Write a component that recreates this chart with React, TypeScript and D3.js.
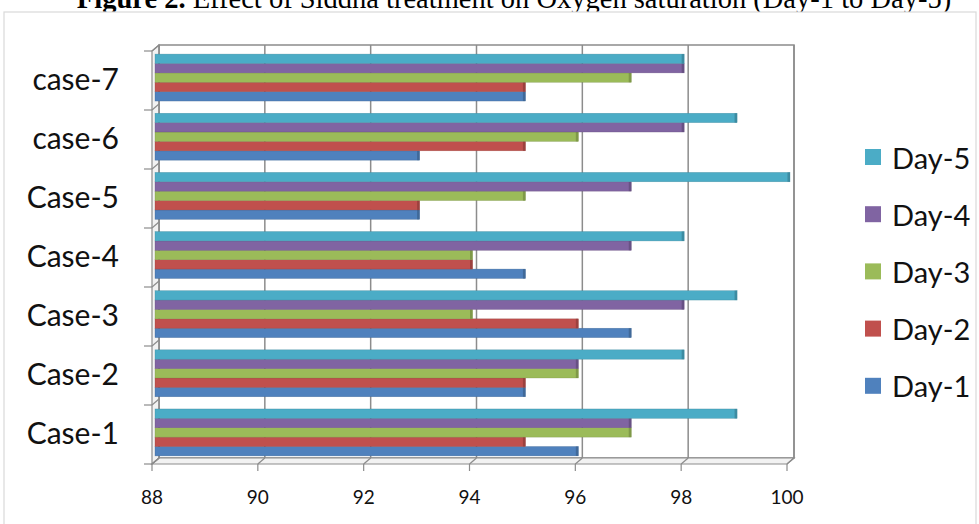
import React from "react";
import * as d3 from "d3";

const categories = ["Case-1", "Case-2", "Case-3", "Case-4", "Case-5", "case-6", "case-7"];
const seriesNames = ["Day-1", "Day-2", "Day-3", "Day-4", "Day-5"];
const day1 = [96, 95, 97, 95, 93, 93, 95];
const day2 = [95, 95, 96, 94, 93, 95, 95];
const day3 = [97, 96, 94, 94, 95, 96, 97];
const day4 = [97, 96, 98, 97, 97, 98, 98];
const day5 = [99, 98, 99, 98, 100, 99, 98];
const xTicks = [88, 90, 92, 94, 96, 98, 100];
const colors = ["#4F81BD", "#C0504D", "#9BBB59", "#8064A2", "#4BACC6"];

const W = 979;
const H = 524;

export default function App() {
  const series = [day1, day2, day3, day4, day5];
  const dx = 7;
  const dy = -6;
  const xFront = d3.scaleLinear().domain([88, 100]).range([152, 787]);
  const xBack = (v: number) => xFront(v) + dx;
  const xBar = (v: number) => xFront(v) + 3;
  const frontBottom = 464;
  const frontTop = 51;
  const backBottom = frontBottom + dy;
  const backTop = frontTop + dy;
  const yBand = d3.scaleBand<string>().domain(categories).range([462, 48]).paddingInner(0).paddingOuter(0);
  const inner = d3
    .scaleBand<string>()
    .domain([...seriesNames].reverse())
    .range([0, yBand.bandwidth()])
    .paddingOuter(0.65)
    .paddingInner(0);
  const yTicks = d3.scaleBand<string>().domain(categories).range([frontBottom, frontTop]);
  const labelFont = "Lato, 'Open Sans', sans-serif";
  const grid = "#8c8c8c";

  return (
    <svg width={W} height={H} style={{ position: "absolute", left: 0, top: 0, background: "#fff" }}>
      <text x={514} y={8} textAnchor="middle" fontFamily="'Liberation Serif', 'Times New Roman', serif" fontSize={28.5}>
        <tspan fontWeight="bold">Figure 2.</tspan>
        <tspan> Effect of Siddha treatment on Oxygen saturation (Day-1 to Day-5)</tspan>
      </text>
      <rect x={4} y={12} width={972} height={530} fill="#fff" stroke="#d9d9d9" strokeWidth={1.2} />

      {/* back wall */}
      <rect x={xBack(88)} y={backTop} width={xBack(100) - xBack(88)} height={backBottom - backTop} fill="#fff" stroke={grid} strokeWidth={1.5} />
      {/* floor */}
      <path
        d={`M${xFront(88)},${frontBottom} L${xFront(100)},${frontBottom} L${xBack(100)},${backBottom} L${xBack(88)},${backBottom} Z`}
        fill="#f2f2f2"
        stroke={grid}
        strokeWidth={1.2}
      />
      {/* left wall */}
      <path
        d={`M${xFront(88)},${frontBottom} L${xFront(88)},${frontTop} L${xBack(88)},${backTop} L${xBack(88)},${backBottom} Z`}
        fill="#f2f2f2"
        stroke={grid}
        strokeWidth={1.2}
      />
      {/* gridlines */}
      {xTicks.map((t) => (
        <g key={t}>
          <line x1={xBack(t)} x2={xBack(t)} y1={backTop} y2={backBottom} stroke={grid} strokeWidth={1.5} />
          <line x1={xFront(t)} y1={frontBottom} x2={xBack(t)} y2={backBottom} stroke={grid} strokeWidth={1.2} />
          <line x1={xFront(t)} x2={xFront(t)} y1={frontBottom} y2={frontBottom + 7} stroke={grid} strokeWidth={1.2} />
          <text x={xFront(t)} y={504} textAnchor="middle" fontFamily={labelFont} fontSize={19} fill="#111">
            {t}
          </text>
        </g>
      ))}
      {/* category separators on left wall */}
      {[...categories.map((c) => (yTicks(c) as number)), frontBottom].map((y, i) => (
        <g key={i}>
          <line x1={xFront(88) - 8} x2={xFront(88)} y1={y} y2={y} stroke={grid} strokeWidth={1.2} />
          <line x1={xFront(88)} x2={xBack(88)} y1={y} y2={y + dy} stroke={grid} strokeWidth={1.2} />
        </g>
      ))}

      {/* bars */}
      {categories.map((c, ci) => (
        <g key={c} transform={`translate(0,${yBand(c)})`}>
          {series.map((s, si) => {
            const y = inner(seriesNames[si]) as number;
            const h = inner.bandwidth();
            const x0 = xBar(88);
            const x1 = xBar(s[ci]);
            const col = colors[si];
            const dark = d3.color(col)!.darker(0.8).formatHex();
            return (
              <g key={si}>
                <rect x={x0} y={y} width={x1 - x0} height={h} fill={col} stroke={dark} strokeWidth={0.5} strokeOpacity={0.6} />
                <rect x={x1 - 2.5} y={y} width={2.5} height={h} fill={dark} opacity={0.75} />
              </g>
            );
          })}
          <text
            x={119}
            y={yBand.bandwidth() / 2}
            textAnchor="end"
            dominantBaseline="central"
            fontFamily={labelFont}
            fontSize={30}
            fill="#111"
          >
            {c}
          </text>
        </g>
      ))}

      {/* legend */}
      {[...seriesNames].reverse().map((n, i) => {
        const si = seriesNames.length - 1 - i;
        const cy = 157 + i * 57.2;
        return (
          <g key={n}>
            <rect x={865} y={cy - 8} width={16} height={16} fill={colors[si]} />
            <text x={892} y={cy} dominantBaseline="central" fontFamily={labelFont} fontSize={29} fill="#111">
              {n}
            </text>
          </g>
        );
      })}
    </svg>
  );
}
